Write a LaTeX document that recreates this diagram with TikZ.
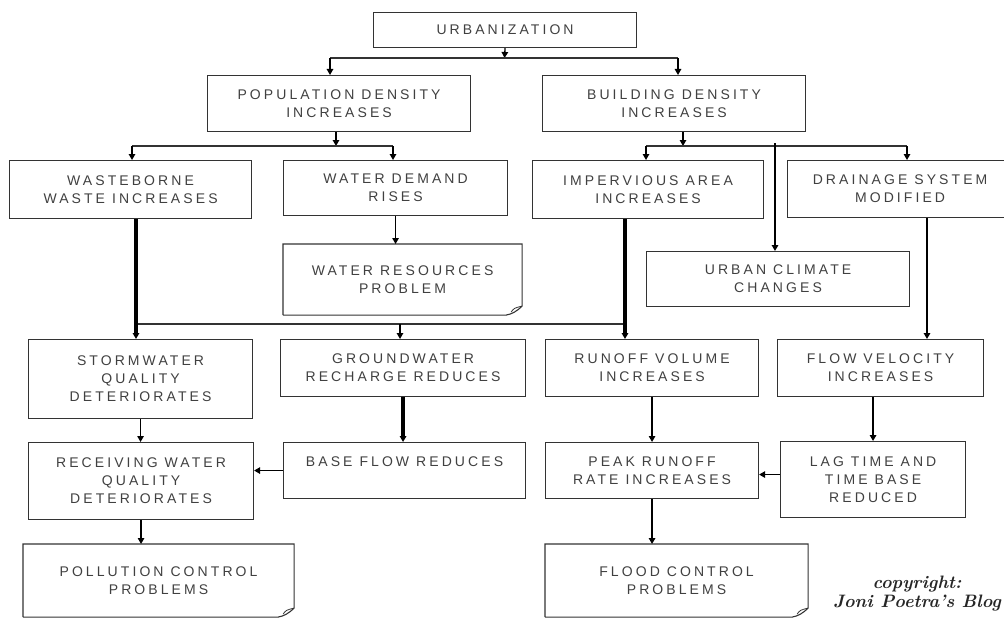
\documentclass[tikz,border=0pt]{standalone}
\usepackage{fontspec}
\newfontfamily\boxfont{Liberation Sans}[LetterSpace=22]
\usetikzlibrary{arrows.meta}
\begin{document}
\begin{tikzpicture}[x=1pt,y=-1pt,
  box/.style={draw=black!80, line width=1.1pt, inner sep=0pt, align=center,
    font=\boxfont\fontsize{14}{18}\selectfont, text=black!75, anchor=north west},
  doc/.style={box, draw=none},
  docline/.style={draw=black!80, line width=1.1pt, line join=miter},
  tip/.style={-{Triangle[length=6pt,width=6.5pt]}},
  arr/.style={tip, draw=black, line width=1.3pt},
  medarr/.style={tip, draw=black, line width=2.2pt},
  bigarr/.style={tip, draw=black, line width=3.4pt},
  jline/.style={draw=black!80, line width=1.1pt}
]
\useasboundingbox (0,0) rectangle (1004,618);

% boxes
\node[box, minimum width=263pt, minimum height=35pt] (urb) at (373,12) {URBANIZATION};
\node[box, minimum width=263pt, minimum height=56pt] (pop) at (207,75) {POPULATION DENSITY\\INCREASES};
\node[box, minimum width=263pt, minimum height=56pt] (bld) at (542,75) {BUILDING DENSITY\\INCREASES};

\node[box, minimum width=242pt, minimum height=58pt] (wb) at (9,160) {WASTEBORNE\\WASTE INCREASES};
\node[box, minimum width=224pt, minimum height=55pt] (wd) at (283,160) {WATER DEMAND\\RISES};
\node[doc, minimum width=238pt, minimum height=70pt] (wres) at (283,244) {WATER RESOURCES\\PROBLEM};
\node[box, minimum width=231pt, minimum height=58pt] (imp) at (532,160) {IMPERVIOUS AREA\\INCREASES};
\node[box, minimum width=225pt, minimum height=57pt] (dr) at (787,160) {DRAINAGE SYSTEM\\MODIFIED};
\node[box, minimum width=263pt, minimum height=55pt] (uc) at (646,251) {URBAN CLIMATE\\CHANGES};

\node[box, minimum width=224pt, minimum height=79pt] (sw) at (28,339) {STORMWATER\\QUALITY\\DETERIORATES};
\node[box, minimum width=245pt, minimum height=57pt] (gw) at (280,339) {GROUNDWATER\\RECHARGE REDUCES};
\node[box, minimum width=213pt, minimum height=57pt] (ro) at (545,339) {RUNOFF VOLUME\\INCREASES};
\node[box, minimum width=206pt, minimum height=57pt] (fv) at (777,339) {FLOW VELOCITY\\INCREASES};

\node[box, minimum width=225pt, minimum height=77pt] (rw) at (28,442) {RECEIVING WATER\\QUALITY\\DETERIORATES};
\node[box, minimum width=242pt, minimum height=56pt] (bf) at (283,442) {BASE FLOW REDUCES\\\mbox{}};
\node[box, minimum width=213pt, minimum height=56pt] (pk) at (545,442) {PEAK RUNOFF\\RATE INCREASES};
\node[box, minimum width=185pt, minimum height=76pt] (lag) at (780,441) {LAG TIME AND\\TIME BASE\\REDUCED};

\node[doc, minimum width=270pt, minimum height=72pt] (pol) at (23,544) {POLLUTION CONTROL\\PROBLEMS};
\node[doc, minimum width=262pt, minimum height=72pt] (fl) at (545,544) {FLOOD CONTROL\\PROBLEMS};

% folded-corner outlines
\foreach \n in {wres,pol,fl}{
  \draw[docline] (\n.south west) -- (\n.north west) -- (\n.north east) -- ([yshift=9pt]\n.south east)
    .. controls ([xshift=-5pt,yshift=4pt]\n.south east) and ([xshift=-10pt,yshift=1pt]\n.south east) .. ([xshift=-16pt]\n.south east)
    -- (\n.south west);
  \draw[draw=black!80, line width=0.8pt] ([yshift=9pt]\n.south east) .. controls ([xshift=-8pt,yshift=7pt]\n.south east) .. ([xshift=-11pt,yshift=3pt]\n.south east);
}

\node[font=\bfseries\itshape\fontsize{18}{19}\selectfont, align=center, text=black!85] (cr) at (917,594) {copyright:\\Joni Poetra's Blog};

% junction coordinates
\coordinate (j0) at (504.5,58);
\coordinate (j0l) at (330,58);
\coordinate (j0r) at (678,58);
\coordinate (j1) at (336,146);
\coordinate (j1l) at (132,146);
\coordinate (j1r) at (393,146);
\coordinate (j2) at (683,146);
\coordinate (j2l) at (646,146);
\coordinate (j2r) at (907,146);
\coordinate (j2c) at (775,143);
\coordinate (j3l) at (136,324);
\coordinate (j3r) at (625,324);
\coordinate (j3m) at (400,324);
\coordinate (dc) at (927,0);

% level 1
\draw[arr] (urb.south) -- (j0);
\draw[jline] (j0l) -- (j0r);
\draw[arr] (j0l) -- (j0l |- pop.north);
\draw[arr] (j0r) -- (j0r |- bld.north);

% level 2
\draw[arr] (j1 |- pop.south) -- (j1);
\draw[jline] (j1l) -- (j1r);
\draw[arr] (j1l) -- (j1l |- wb.north);
\draw[arr] (j1r) -- (j1r |- wd.north);

\draw[arr] (j2 |- bld.south) -- (j2);
\draw[jline] (j2l) -- (j2r);
\draw[arr] (j2l) -- (j2l |- imp.north);
\draw[arr] (j2r) -- (j2r |- dr.north);
\draw[medarr] (j2c) -- (j2c |- uc.north);

% level 3
\draw[arr] (wd.south) -- (wd.south |- wres.north);
\draw[jline] (j3l) -- (j3r);
\draw[bigarr] (j3l |- wb.south) -- (j3l |- sw.north);
\draw[bigarr] (j3r |- imp.south) -- (j3r |- ro.north);
\draw[arr] (j3m) -- (j3m |- gw.north);
\draw[medarr] (dc |- dr.south) -- (dc |- fv.north);

% level 4
\draw[arr] (sw.south) -- (sw.south |- rw.north);
\draw[bigarr] (gw.south) -- (gw.south |- bf.north);
\draw[arr] (bf.west) -- (bf.west -| rw.east);
\draw[arr] (ro.south) -- (ro.south |- pk.north);
\draw[medarr] (lag.north |- fv.south) -- (lag.north);
\draw[arr] ([yshift=5pt]lag.west) -- ([yshift=5pt]lag.west -| pk.east);
\draw[arr] (rw.south) -- (rw.south |- pol.north);
\draw[medarr] (pk.south) -- (pk.south |- fl.north);
\end{tikzpicture}
\end{document}
